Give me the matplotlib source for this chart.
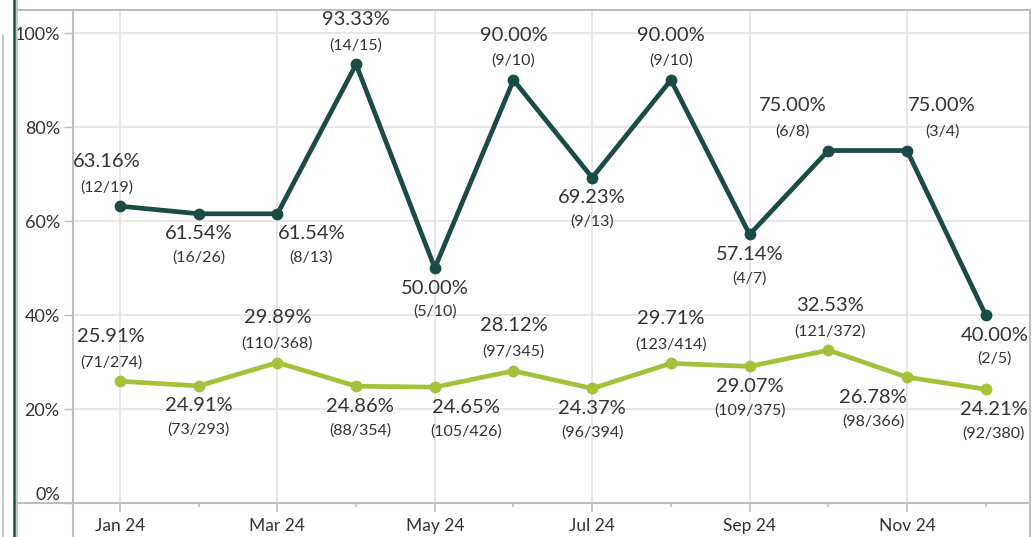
import matplotlib
matplotlib.use("Agg")
import matplotlib.pyplot as plt
from matplotlib.lines import Line2D

plt.rcParams['font.family'] = ['Lato', 'DejaVu Sans']

months = ['Jan 24', 'Feb 24', 'Mar 24', 'Apr 24', 'May 24', 'Jun 24',
          'Jul 24', 'Aug 24', 'Sep 24', 'Oct 24', 'Nov 24', 'Dec 24']

dark_pct = [63.16, 61.54, 61.54, 93.33, 50.00, 90.00, 69.23, 90.00, 57.14, 75.00, 75.00, 40.00]
dark_num = [12, 16, 8, 14, 5, 9, 9, 9, 4, 6, 3, 2]
dark_den = [19, 26, 13, 15, 10, 10, 13, 10, 7, 8, 4, 5]

light_pct = [25.91, 24.91, 29.89, 24.86, 24.65, 28.12, 24.37, 29.71, 29.07, 32.53, 26.78, 24.21]
light_num = [71, 73, 110, 88, 105, 97, 96, 123, 109, 121, 98, 92]
light_den = [274, 293, 368, 354, 426, 345, 394, 414, 375, 372, 366, 380]

# label placement (1 = above the point, -1 = below) and horizontal nudges in px
dark_side = [1, -1, -1, 1, -1, 1, -1, 1, -1, 1, 1, -1]
dark_dx = [-13, 0, 34, 0, 0, 0, 0, 0, 0, -36, 35, 9]
light_side = [1, -1, 1, -1, -1, 1, -1, 1, -1, 1, -1, -1]
light_dx = [-9, 0, 0, 4, 31, 0, 0, 0, 0, 2, -34, 8]

DARK = '#1b4b45'
LIGHT = '#a3c23a'
TXT = '#333333'
GRID = '#e3e3e3'
AXC = '#bdbdbd'

W, H = 1032, 537
fig = plt.figure(figsize=(W / 100, H / 100), dpi=100)
ax = fig.add_axes([73 / W, (H - 503) / H, (1029 - 73) / W, (503 - 10) / H])

x = list(range(len(months)))

ax.plot(x, dark_pct, color=DARK, lw=3.4, marker='o', ms=7.5, zorder=3, solid_joinstyle='round')
ax.plot(x, light_pct, color=LIGHT, lw=3.4, marker='o', ms=7.5, zorder=3, solid_joinstyle='round')


def put_labels(pcts, nums, dens, sides, dxs):
    for i, (p, n, d, s, dx) in enumerate(zip(pcts, nums, dens, sides, dxs)):
        if s > 0:
            dy1, dy2 = 45, 19
        else:
            dy1, dy2 = -20, -44
        ax.annotate(f'{p:.2f}%', (i, p), xytext=(dx, dy1), textcoords='offset pixels',
                    ha='center', va='center', fontsize=14.5, color=TXT, zorder=4)
        ax.annotate(f'({n}/{d})', (i, p), xytext=(dx, dy2), textcoords='offset pixels',
                    ha='center', va='center', fontsize=11.5, color=TXT, zorder=4)


put_labels(dark_pct, dark_num, dark_den, dark_side, dark_dx)
put_labels(light_pct, light_num, light_den, light_side, light_dx)

ax.set_xlim(-0.597, 11.55)
ax.set_ylim(0, 104.9)

ax.set_yticks([0, 20, 40, 60, 80, 100])
ax.set_yticklabels(['0%', '20%', '40%', '60%', '80%', '100%'])
ax.set_xticks(x[::2])
ax.set_xticklabels(months[::2])
ax.set_xticks(x[1::2], minor=True)

ax.tick_params(axis='y', length=6.5, width=1, color=AXC, labelsize=13, labelcolor=TXT, pad=3)
ax.tick_params(axis='x', which='major', length=6.5, width=1.2, color=AXC, labelsize=12.5,
               labelcolor=TXT, pad=4)
ax.tick_params(axis='x', which='minor', length=3, width=1.2, color=AXC)
# 0% label sits just above the baseline
ax.get_yticklabels()[0].set_va('bottom')

ax.grid(True, which='major', color=GRID, lw=1.2)
ax.set_axisbelow(True)
for side in ['left', 'right', 'top', 'bottom']:
    ax.spines[side].set_visible(False)

# frame lines around the plot area
fig.add_artist(Line2D([17 / W, 1029 / W], [(H - 10) / H] * 2, color=AXC, lw=1.5))
fig.add_artist(Line2D([16 / W, 1029 / W], [(H - 503) / H] * 2, color=AXC, lw=1.5))
fig.add_artist(Line2D([73 / W] * 2, [0, (H - 10) / H], color=AXC, lw=1.5))
fig.add_artist(Line2D([1029.5 / W] * 2, [(H - 10) / H, 0], color=AXC, lw=1.5))
fig.add_artist(Line2D([16.5 / W] * 2, [0, 1], color=AXC, lw=1.2))
fig.add_artist(Line2D([14 / W] * 2, [0, 1], color=DARK, lw=1.8))
fig.add_artist(Line2D([2.5 / W] * 2, [0, (H - 35) / H], color=AXC, lw=1.2))

fig.savefig('out.png', dpi=100, facecolor='white')
